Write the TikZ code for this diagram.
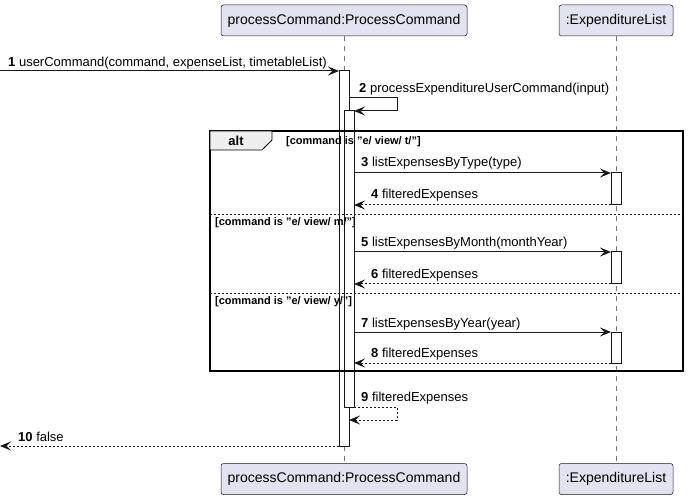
\documentclass[tikz,border=0pt]{standalone}
\usepackage{fontspec}
\setmainfont{Liberation Sans}
\usetikzlibrary{arrows.meta}
\definecolor{partfill}{HTML}{E2E2F0}
\definecolor{linecol}{HTML}{181818}
\definecolor{tabfill}{HTML}{EEEEEE}
\begin{document}
\begin{tikzpicture}[x=1pt,y=-1pt,
    participant/.style={draw=linecol,fill=partfill,line width=0.5pt,rounded corners=2.5pt,minimum height=31pt,inner sep=0pt,font=\fontsize{14}{16}\selectfont},
    lifeline/.style={draw=linecol!60,line width=0.6pt,dash pattern=on 5pt off 5pt},
    activation/.style={draw=linecol,fill=white,line width=1pt,minimum width=10pt,inner sep=0pt,outer sep=0pt},
    msg/.style={draw=linecol,line width=1pt,-{Stealth[length=11pt,width=9pt,inset=4.5pt]}},
    ret/.style={msg,dash pattern=on 2pt off 2pt},
    msglabel/.style={anchor=base west,inner sep=0pt,font=\fontsize{13}{15}\selectfont},
    guard/.style={anchor=base west,inner sep=0pt,font=\bfseries\fontsize{11}{13}\selectfont},
    separator/.style={draw=linecol,line width=0.8pt,dash pattern=on 2pt off 2pt}]
    \useasboundingbox (0,0) rectangle (689,500);
    \node[participant,minimum width=246pt] (pctop) at (344,20.5) {processCommand:ProcessCommand};
    \node[participant,minimum width=114pt] (eltop) at (616,20.5) {:ExpenditureList};
    \node[participant,minimum width=246pt] (pcbot) at (344,479) {processCommand:ProcessCommand};
    \node[participant,minimum width=114pt] (elbot) at (616,479) {:ExpenditureList};
    \draw[lifeline] (pctop) -- (pcbot);
    \draw[lifeline] (eltop) -- (elbot);

    \node[activation,minimum height=375pt] (act1) at (344,258.5) {};
    \node[activation,minimum height=296pt] (act2) at (349,259) {};
    \node[activation,minimum height=32pt] (act3) at (616,189) {};
    \node[activation,minimum height=32pt] (act4) at (616,268) {};
    \node[activation,minimum height=31pt] (act5) at (616,347.5) {};

    \draw[line width=1.5pt] (210,131) rectangle (683,371);
    \draw[fill=tabfill,line width=0.8pt] (210,131) -- (272,131) -- (272,140) -- (262,150) -- (210,150) -- cycle;
    \node[anchor=base,inner sep=0pt,font=\bfseries\fontsize{13}{15}\selectfont] (alt) at (236,146) {alt};
    \node[guard] (g1) at (286,145) {[command is "e/ view/ t/"]};
    \draw[separator] (210,214) -- (683,214);
    \node[guard] (g2) at (215,226) {[command is "e/ view/ m/"]};
    \draw[separator] (210,293) -- (683,293);
    \node[guard] (g3) at (215,305) {[command is "e/ view/ y/"]};

    \coordinate (caller) at (0,71);
    \draw[msg] (caller) -- (act1.north west);
    \node[msglabel] (l1) at (8,67) {\textbf{1} userCommand(command, expenseList, timetableList)};

    \coordinate (self2a) at (349,98);
    \coordinate (self2b) at (397,98);
    \coordinate (self2c) at (397,111);
    \draw[msg] (self2a) -- (self2b) -- (self2c) -- (act2.north east);
    \node[msglabel] (l2) at (359,93) {\textbf{2} processExpenditureUserCommand(input)};

    \draw[msg] (act2.east |- act3.north) -- (act3.north west);
    \node[msglabel] (l3) at (361,167) {\textbf{3} listExpensesByType(type)};
    \draw[ret] (act3.south west) -- (act2.east |- act3.south);
    \node[msglabel] (l4) at (371,199) {\textbf{4} filteredExpenses};

    \draw[msg] (act2.east |- act4.north) -- (act4.north west);
    \node[msglabel] (l5) at (361,247) {\textbf{5} listExpensesByMonth(monthYear)};
    \draw[ret] (act4.south west) -- (act2.east |- act4.south);
    \node[msglabel] (l6) at (371,279) {\textbf{6} filteredExpenses};

    \draw[msg] (act2.east |- act5.north) -- (act5.north west);
    \node[msglabel] (l7) at (361,327) {\textbf{7} listExpensesByYear(year)};
    \draw[ret] (act5.south west) -- (act2.east |- act5.south);
    \node[msglabel] (l8) at (371,357) {\textbf{8} filteredExpenses};

    \coordinate (self9b) at (397,407);
    \coordinate (self9c) at (397,420);
    \coordinate (self9d) at (349,420);
    \draw[ret] (act2.south east) -- (self9b) -- (self9c) -- (self9d);
    \node[msglabel] (l9) at (361,401) {\textbf{9} filteredExpenses};

    \coordinate (caller10) at (0,446);
    \draw[ret] (act1.south west) -- (caller10);
    \node[msglabel] (l10) at (18,441) {\textbf{10} false};
\end{tikzpicture}
\end{document}
